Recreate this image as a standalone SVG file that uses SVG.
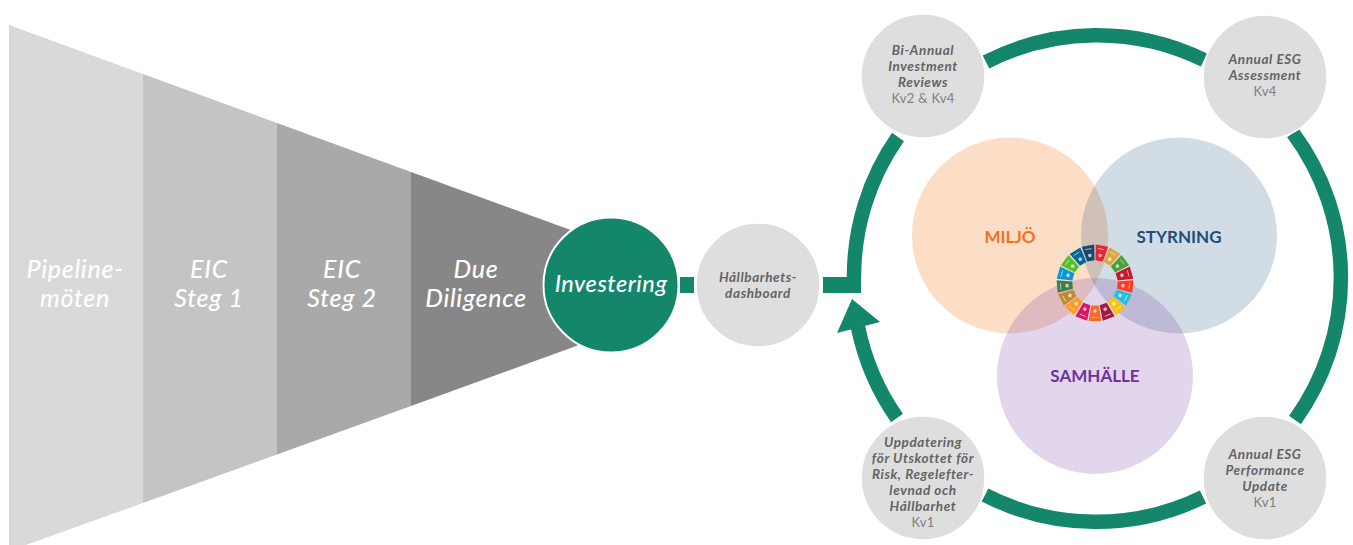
<svg xmlns="http://www.w3.org/2000/svg" xmlns:xlink="http://www.w3.org/1999/xlink" width="1353" height="545" viewBox="0 0 1353 545">
<style>
text{font-family:"Lato","Open Sans","Liberation Sans",sans-serif;text-anchor:middle}
.f{font-size:25px;font-style:italic;font-weight:500;fill:#fff;letter-spacing:.7px}
.i{font-size:23.5px;letter-spacing:.5px}
.n{font-size:13.5px;font-style:italic;font-weight:700;fill:#636363;letter-spacing:.6px}
.k{font-size:13px;fill:#7f7f7f;letter-spacing:.3px}
.b{fill:#dedede;stroke:#fff;stroke-width:1.5}
.r{fill:none;stroke:#14866a;stroke-width:14.5}
.p{font-size:17px;font-weight:700}
</style>
<defs>
<g id="w"><path d="M-6.3-38L6.3-38L3.7-22.5L-3.7-22.5Z"/><path d="M-3.5-34.5H3" stroke="#fff" stroke-width=".7" fill="none" opacity=".8"/><circle cy="-28" r="1.8" fill="#fff" opacity=".7"/></g>
</defs>
<g id="funnel">
<polygon points="9,25 143,74 143,503 9,551" fill="#d9d9d9"/>
<polygon points="143,74 277,123 277,454.5 143,503" fill="#c4c4c4"/>
<polygon points="277,123 411,172 411,406 277,454.5" fill="#a9a9a9"/>
<polygon points="411,172 579,233 579,345 411,406" fill="#878787"/>
</g>
<g id="stage-pipeline"><text class="f" x="75" y="278">Pipeline-</text><text class="f" x="75" y="307">möten</text></g>
<g id="stage-eic1"><text class="f" x="209" y="278">EIC</text><text class="f" x="209" y="307">Steg 1</text></g>
<g id="stage-eic2"><text class="f" x="342" y="278">EIC</text><text class="f" x="342" y="307">Steg 2</text></g>
<g id="stage-dd"><text class="f" x="476" y="278">Due</text><text class="f" x="476" y="307">Diligence</text></g>
<g id="connectors">
<rect x="680" y="277" width="14" height="16" fill="#14866a"/>
<rect x="823" y="277" width="38" height="16" fill="#14866a"/>
<path class="r" d="M986 62A243 243 0 0 1 1204 60"/>
<path class="r" d="M1293 133A243 243 0 0 1 1295 420"/>
<path class="r" d="M1203 497A243 243 0 0 1 985 495"/>
<path class="r" d="M897 418A243 243 0 0 1 858 327"/>
<polygon points="852,299 880,322 837,333" fill="#14866a"/>
<path class="r" d="M898 137A243 243 0 0 0 854 278"/>
</g>
<g id="investering"><circle cx="611" cy="285" r="67.5" fill="#14866a" stroke="#fff" stroke-width="2"/><text class="f i" x="611" y="292">Investering</text></g>
<g id="dashboard"><circle class="b" cx="758" cy="285" r="62"/><text class="n" x="758" y="282">Hållbarhets-</text><text class="n" x="758" y="298">dashboard</text></g>
<g id="review"><circle class="b" cx="923" cy="76" r="62"/><text class="n" x="923" y="55">Bi-Annual</text><text class="n" x="923" y="71">Investment</text><text class="n" x="923" y="87">Reviews</text><text class="k" x="923" y="103">Kv2 &amp; Kv4</text></g>
<g id="assessment"><circle class="b" cx="1265" cy="77" r="62"/><text class="n" x="1265" y="64">Annual ESG</text><text class="n" x="1265" y="80">Assessment</text><text class="k" x="1265" y="96">Kv4</text></g>
<g id="performance"><circle class="b" cx="1265" cy="478" r="62"/><text class="n" x="1265" y="459">Annual ESG</text><text class="n" x="1265" y="475">Performance</text><text class="n" x="1265" y="491">Update</text><text class="k" x="1265" y="507">Kv1</text></g>
<g id="uppdatering"><circle class="b" cx="923" cy="478" r="62"/><text class="n" x="923" y="447">Uppdatering</text><text class="n" x="923" y="463">för Utskottet för</text><text class="n" x="923" y="479">Risk, Regelefter-</text><text class="n" x="923" y="495">levnad och</text><text class="n" x="923" y="511">Hållbarhet</text><text class="k" x="923" y="527">Kv1</text></g>
<g id="miljo"><circle cx="1010" cy="235.5" r="98" fill="#f57c20" fill-opacity=".25"/></g>
<g id="styrning"><circle cx="1179" cy="235.5" r="98" fill="#1f4e79" fill-opacity=".2"/></g>
<g id="samhalle"><circle cx="1095" cy="376" r="98" fill="#7030a0" fill-opacity=".2"/></g>
<g id="labels"><text class="p" x="1010" y="243" fill="#f2701d">MILJÖ</text><text class="p" x="1179" y="243" fill="#1f4e79">STYRNING</text><text class="p" x="1095" y="382" fill="#7030a0">SAMHÄLLE</text></g>
<g id="sdg-wheel" transform="translate(1095 283)">
<use href="#w" transform="rotate(10.6)" fill="#e5243b"/>
<use href="#w" transform="rotate(31.8)" fill="#dda63a"/>
<use href="#w" transform="rotate(53)" fill="#4c9f38"/>
<use href="#w" transform="rotate(74.1)" fill="#c5192d"/>
<use href="#w" transform="rotate(95.3)" fill="#ff3a21"/>
<use href="#w" transform="rotate(116.5)" fill="#26bde2"/>
<use href="#w" transform="rotate(137.6)" fill="#fcc30b"/>
<use href="#w" transform="rotate(158.8)" fill="#a21942"/>
<use href="#w" transform="rotate(180)" fill="#fd6925"/>
<use href="#w" transform="rotate(201.2)" fill="#dd1367"/>
<use href="#w" transform="rotate(222.4)" fill="#fd9d24"/>
<use href="#w" transform="rotate(243.5)" fill="#bf8b2e"/>
<use href="#w" transform="rotate(264.7)" fill="#3f7e44"/>
<use href="#w" transform="rotate(285.9)" fill="#0a97d9"/>
<use href="#w" transform="rotate(307)" fill="#56c02b"/>
<use href="#w" transform="rotate(328.2)" fill="#00689d"/>
<use href="#w" transform="rotate(349.4)" fill="#19486a"/>
</g>
</svg>
